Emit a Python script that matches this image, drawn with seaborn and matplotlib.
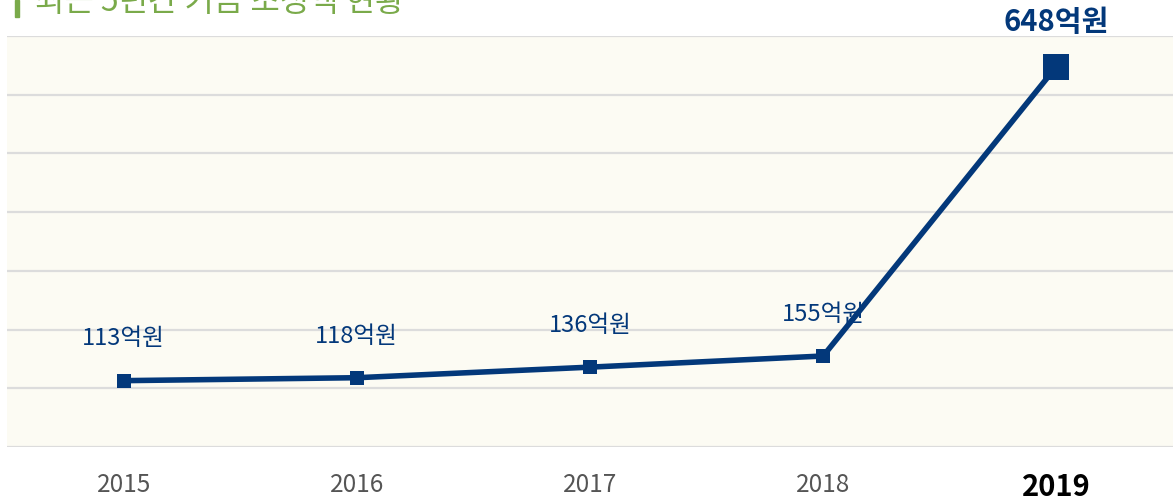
import matplotlib
matplotlib.use("Agg")
import matplotlib.pyplot as plt
import seaborn as sns
import pandas as pd

years = ["2015", "2016", "2017", "2018", "2019"]
amounts = [113, 118, 136, 155, 648]
value_labels = ["113억원", "118억원", "136억원", "155억원", "648억원"]
title = "최근 5년간 기금 조성액 현황"

navy = "#03387a"
green = "#7aaa4a"

sns.set_style("white")
plt.rcParams["font.family"] = ["Noto Sans CJK KR", "DejaVu Sans"]

df = pd.DataFrame({"year": years, "amount": amounts})

fig = plt.figure(figsize=(11.73, 4.98), dpi=100)
ax = fig.add_axes([7 / 1173, 51 / 498, 1166 / 1173, 411 / 498])
ax.set_facecolor("#fcfbf3")

sns.lineplot(data=df, x="year", y="amount", ax=ax, color=navy, linewidth=4,
             marker="s", markersize=9.5, markeredgewidth=0, sort=False)
# bigger marker for latest year
sns.scatterplot(data=df.iloc[[-1]], x="year", y="amount", ax=ax, color=navy,
                marker="s", s=360, linewidth=0, zorder=5)

ax.set_xlim(-0.5, 4.5)
ax.set_ylim(0, 700)
ax.set_yticks(range(0, 701, 100))
ax.set_yticklabels([])
ax.yaxis.grid(True, color="#dcdcdc", linewidth=1.6)
ax.xaxis.grid(False)
ax.set_axisbelow(True)
for s in ax.spines.values():
    s.set_visible(False)
ax.tick_params(axis="both", length=0)
ax.tick_params(axis="x", pad=18, labelsize=17.5, labelcolor="#555555")
ax.set_xlabel("")
ax.set_ylabel("")
last = ax.get_xticklabels()[-1]
last.set_fontweight("bold")
last.set_color("black")
last.set_fontsize(21)

for i, (v, lab) in enumerate(zip(amounts, value_labels)):
    if i == len(amounts) - 1:
        ax.annotate(lab, (i, v), xytext=(0, 32), textcoords="offset points",
                    ha="center", va="center", color=navy, fontsize=21,
                    fontweight="bold", annotation_clip=False)
    else:
        ax.annotate(lab, (i, v), xytext=(0, 30), textcoords="offset points",
                    ha="center", va="center", color=navy, fontsize=17)

fig.text(35 / 1173, 1 - 11 / 498, title, color=green, fontsize=23,
         fontweight="light", ha="left", va="baseline")
fig.patches.append(plt.Rectangle((15 / 1173, 1 - 17 / 498), 4 / 1173, 17 / 498,
                                 transform=fig.transFigure, color=green))

fig.savefig("out.png", dpi=100)
